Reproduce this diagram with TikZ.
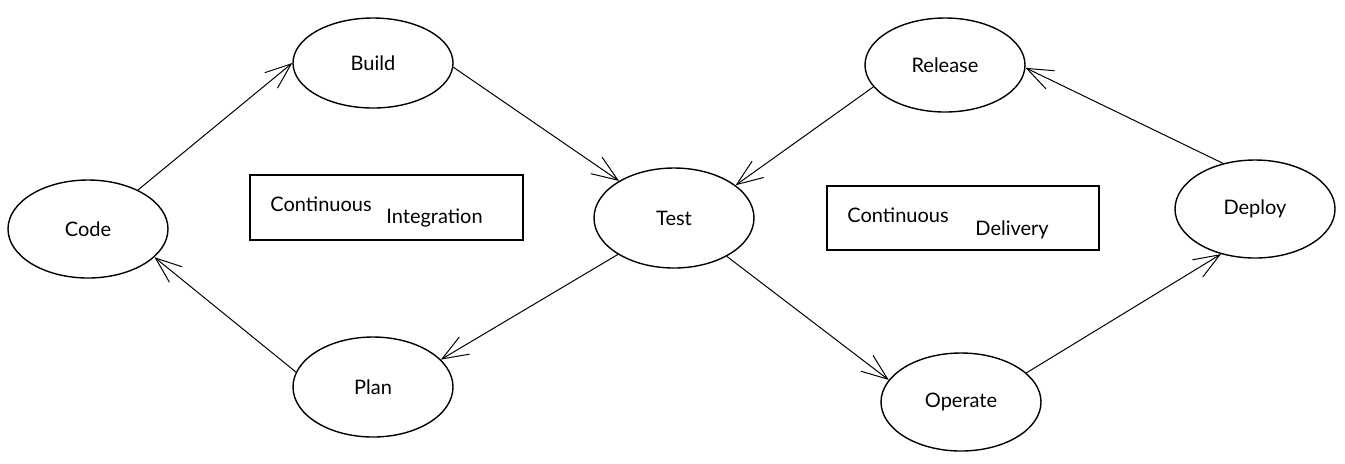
\documentclass[tikz,border=0pt]{standalone}
\usepackage{fontspec}
\setmainfont{Lato}
\usetikzlibrary{arrows.meta,shapes.geometric}

\tikzset{
  stage/.style={ellipse,draw,line width=.7pt,minimum width=80pt,inner sep=0pt,font=\fontsize{10}{12}\selectfont},
  flow/.style={-{Straight Barb[length=13pt,width=10pt]},line width=.5pt},
  phase/.style={draw,line width=.6pt,inner sep=0pt},
  word/.style={inner sep=0pt,anchor=west,font=\fontsize{10}{12}\selectfont}
}

\begin{document}
\begin{tikzpicture}[x=.5pt,y=-.5pt]
  \useasboundingbox (0,0) rectangle (1345,463);
  % the stages of the loop
  \foreach \n/\t/\x/\y/\h in {code/Code/88/229/49, build/Build/373/63/45,
      test/Test/674/218/50, plan/Plan/373/387/50, release/Release/945/65/47,
      deploy/Deploy/1255/209/49, operate/Operate/961/402/49}
    \node[stage,minimum height=\h pt] (\n) at (\x,\y) {\t};
  % the two phases
  \node[phase,minimum width=136.5pt,minimum height=32.5pt] (ci) at (386.5,207.5) {};
  \node[word] (ciA) at (270,204) {Continuous};
  \node[word] (ciB) at (386,218) {Integration};
  \node[phase,minimum width=136pt,minimum height=32pt] (cd) at (963,218) {};
  \node[word] (cdA) at (847,215) {Continuous};
  \node[word] (cdB) at (975,230) {Delivery};
  % arrows
  \foreach \a/\b in {code.38/build.180, build.-3/test.146, release.197/test.28,
      deploy.125/release.-2, test.213/plan.22, plan.169/code.337,
      test.324/operate.163, operate.24/deploy.233}
    \draw[flow] (\a) -- (\b);
\end{tikzpicture}
\end{document}
